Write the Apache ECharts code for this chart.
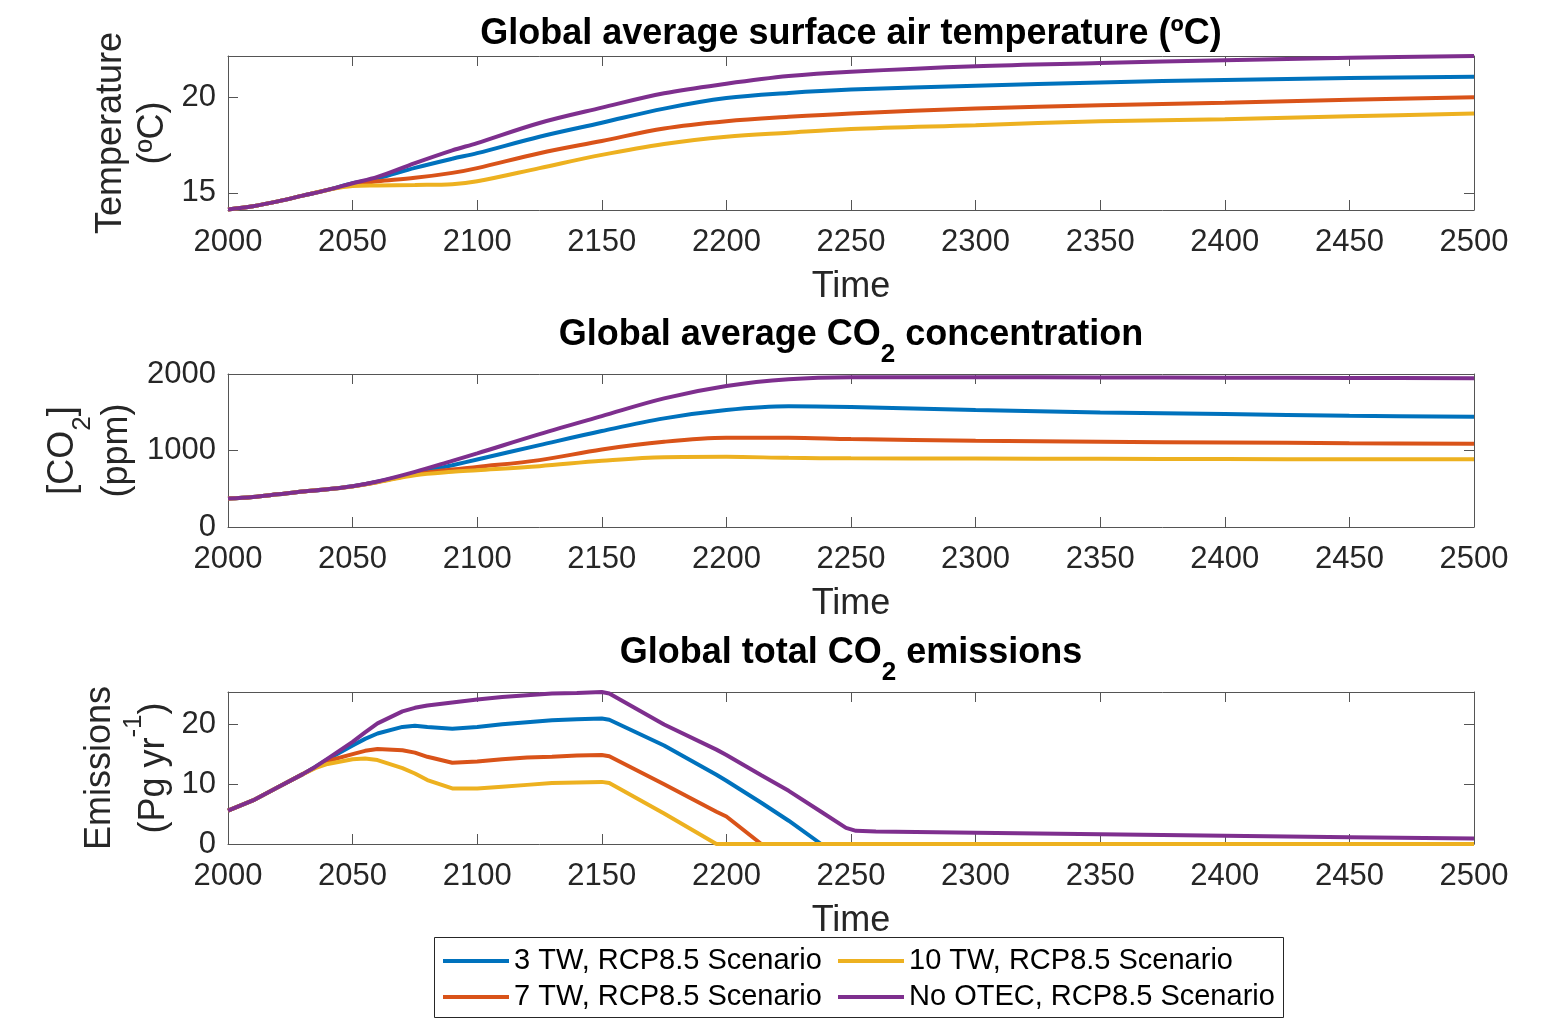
<!DOCTYPE html>
<html>
<head>
<meta charset="utf-8">
<script src="https://cdn.jsdelivr.net/npm/echarts@6/dist/echarts.min.js"></script>
<style>
html,body{margin:0;padding:0;background:#fff;}
#chart{width:1557px;height:1024px;}
</style>
</head>
<body>
<div id="chart"></div>
<script>
// ---------------- data ----------------
const seriesNames = ['3 TW, RCP8.5 Scenario', '7 TW, RCP8.5 Scenario', '10 TW, RCP8.5 Scenario', 'No OTEC, RCP8.5 Scenario'];
const seriesColors = ['#0072BD', '#D95319', '#EDB120', '#7E2F8E'];
const xTickLabels = [2000, 2050, 2100, 2150, 2200, 2250, 2300, 2350, 2400, 2450, 2500];

// Temperature (°C)
const tYears = [2000,2010,2020,2030,2040,2050,2060,2075,2090,2100,2125,2150,2175,2200,2225,2250,2300,2350,2400,2450,2500];
const temp3TW    = [14.13,14.3,14.55,14.85,15.15,15.5,15.75,16.3,16.78,17.07,17.93,18.66,19.4,19.95,20.22,20.4,20.6,20.77,20.9,21.0,21.07];
const temp7TW    = [14.13,14.3,14.55,14.85,15.15,15.45,15.6,15.78,16.04,16.29,17.07,17.71,18.36,18.74,18.97,19.15,19.4,19.57,19.71,19.86,20.0];
const temp10TW   = [14.13,14.3,14.55,14.85,15.15,15.35,15.38,15.41,15.45,15.6,16.29,16.98,17.55,17.93,18.14,18.33,18.53,18.74,18.84,19.0,19.14];
const tempNoOTEC = [14.13,14.3,14.55,14.85,15.15,15.5,15.83,16.55,17.22,17.6,18.65,19.45,20.2,20.7,21.1,21.33,21.62,21.78,21.93,22.06,22.15];
const tempTicks = [15, 20];

// CO2 concentration (ppm)
const co2Years = tYears;
const co23TW    = [372,393,428,464,494,533,592,700,808,883,1070,1254,1420,1529,1578,1568,1529,1498,1476,1454,1441];
const co27TW    = [372,393,428,464,494,531,588,690,752,786,874,1014,1114,1166,1168,1149,1127,1114,1105,1096,1088];
const co210TW   = [372,393,428,464,494,530,585,677,722,742,795,865,912,917,904,898,896,891,888,887,887];
const co2NoOTEC = [372,393,428,464,494,533,595,721,865,962,1214,1450,1682,1843,1931,1957,1958,1955,1952,1948,1944];
const co2Ticks = [0, 1000, 2000];

// CO2 emissions (Pg yr-1)
const eYears = [2000,2010,2020,2030,2035,2040,2050,2055,2060,2070,2075,2080,2090,2100,2110,2120,2130,2140,2150,2153,2175,2196,2200,2214,2225,2238,2248,2252,2260,2300,2350,2400,2450,2500];
const em3TW    = [5.6,7.3,9.5,11.7,12.9,14.2,16.5,17.6,18.5,19.6,19.8,19.6,19.3,19.6,20.05,20.4,20.7,20.9,21.0,20.8,16.5,11.6,10.6,6.9,3.9,0,0,0,0,0,0,0,0,0];
const em7TW    = [5.6,7.3,9.5,11.7,12.8,13.9,15.05,15.6,15.9,15.7,15.3,14.6,13.6,13.8,14.2,14.5,14.6,14.8,14.9,14.7,10.0,5.4,4.6,0,0,0,0,0,0,0,0,0,0,0];
const em10TW   = [5.6,7.3,9.5,11.7,12.7,13.4,14.2,14.3,14.05,12.7,11.8,10.7,9.3,9.3,9.6,9.9,10.2,10.3,10.4,10.2,5.1,0,0,0,0,0,0,0,0,0,0,0,0,0];
const emNoOTEC = [5.6,7.3,9.5,11.7,12.9,14.3,17.1,18.7,20.2,22.2,22.8,23.2,23.7,24.2,24.6,24.9,25.2,25.3,25.45,25.2,20.0,15.8,14.9,11.5,8.9,5.4,2.7,2.2,2.1,1.9,1.65,1.4,1.15,0.9];
const emTicks = [0, 10, 20];

// ---------------- chart ----------------
const FONT = '"Liberation Sans", Arial, Helvetica, sans-serif';
const AX = '#262626';
const BOX = '#555555';

const pair = (xs, ys) => xs.map((x, i) => [x, ys[i]]);
const plain = v => String(v);

const grids = [
  { left: 228, top: 56, width: 1246, height: 154 },
  { left: 228, top: 374, width: 1246, height: 153 },
  { left: 228, top: 692, width: 1246, height: 152 }
];

const subRich = {
  b: { fontSize: 36, fontWeight: 'bold', color: '#000', fontFamily: FONT },
  s: { fontSize: 26, fontWeight: 'bold', color: '#000', fontFamily: FONT, padding: [40, 0, 0, 0] }
};
const nameRich = {
  a: { fontSize: 36, color: AX, fontFamily: FONT, lineHeight: 42 },
  s: { fontSize: 26, color: AX, fontFamily: FONT, padding: [40, 0, 0, 0] },
  p: { fontSize: 26, color: AX, fontFamily: FONT, padding: [0, 0, 40, 0] }
};

const titles = [
  '{b|Global average surface air temperature (ºC)}',
  '{b|Global average CO}{s|2}{b| concentration}',
  '{b|Global total CO}{s|2}{b| emissions}'
];
const titleGaps = [4, 6, 6];

const xAxes = [];
grids.forEach((g, i) => {
  xAxes.push({
    gridIndex: i, type: 'value', position: 'bottom', min: 2000, max: 2500, interval: 50,
    axisLine: { show: true, onZero: false, lineStyle: { color: BOX, width: 1 } },
    axisTick: { show: true, inside: true, length: 10, lineStyle: { color: BOX } },
    axisLabel: { show: true, fontSize: 31, color: AX, fontFamily: FONT, margin: 17,
      customValues: xTickLabels, formatter: plain },
    splitLine: { show: false },
    name: 'Time', nameLocation: 'middle', nameGap: 59, nameMoveOverlap: false,
    nameTextStyle: { fontSize: 36, color: AX, fontFamily: FONT }
  });
  xAxes.push({
    gridIndex: i, type: 'value', position: 'top', min: 2000, max: 2500, interval: 50,
    axisLine: { show: true, onZero: false, lineStyle: { color: BOX, width: 1 } },
    axisTick: { show: true, inside: true, length: 10, lineStyle: { color: BOX } },
    axisLabel: { show: false },
    splitLine: { show: false },
    name: titles[i], nameLocation: 'middle', nameGap: titleGaps[i], nameMoveOverlap: false,
    nameTextStyle: { rich: subRich, fontSize: 36, fontWeight: 'bold', color: '#000', fontFamily: FONT }
  });
});

const yCfg = [
  { min: 14.1, max: 22.15, ticks: tempTicks, name: '{a|Temperature}\n{a|(ºC)}', gap: 54 },
  { min: 0, max: 2000, ticks: co2Ticks, name: '{a|[CO}{s|2}{a|]}\n{a|(ppm)}', gap: 90 },
  { min: 0, max: 25.45, ticks: emTicks, name: '{a|Emissions}\n{a|(Pg yr}{p|-1}{a|)}', gap: 41 }
];
const yAxes = [];
yCfg.forEach((c, i) => {
  yAxes.push({
    gridIndex: i, type: 'value', position: 'left', min: c.min, max: c.max,
    axisLine: { show: true, onZero: false, lineStyle: { color: BOX, width: 1 } },
    axisTick: { show: true, inside: true, length: 10, lineStyle: { color: BOX }, customValues: c.ticks },
    axisLabel: { show: true, fontSize: 31, color: AX, fontFamily: FONT, margin: 12,
      customValues: c.ticks, formatter: plain },
    splitLine: { show: false },
    name: c.name, nameLocation: 'middle', nameRotate: 90, nameGap: c.gap, nameMoveOverlap: false,
    nameTextStyle: { rich: nameRich, fontSize: 36, color: AX, fontFamily: FONT, align: 'center' }
  });
  yAxes.push({
    gridIndex: i, type: 'value', position: 'right', min: c.min, max: c.max,
    axisLine: { show: true, onZero: false, lineStyle: { color: BOX, width: 1 } },
    axisTick: { show: true, inside: true, length: 10, lineStyle: { color: BOX }, customValues: c.ticks },
    axisLabel: { show: false },
    splitLine: { show: false }
  });
});

const panelData = [
  [pair(tYears, temp3TW), pair(tYears, temp7TW), pair(tYears, temp10TW), pair(tYears, tempNoOTEC)],
  [pair(co2Years, co23TW), pair(co2Years, co27TW), pair(co2Years, co210TW), pair(co2Years, co2NoOTEC)],
  [pair(eYears, em3TW), pair(eYears, em7TW), pair(eYears, em10TW), pair(eYears, emNoOTEC)]
];
const panelSmooth = [0.35, 0.35, false];

const series = [];
panelData.forEach((sets, p) => {
  sets.forEach((d, k) => {
    series.push({
      name: seriesNames[k], type: 'line', xAxisIndex: p * 2, yAxisIndex: p * 2,
      data: d, symbol: 'none', showSymbol: false, smooth: panelSmooth[p],
      lineStyle: { color: seriesColors[k], width: 4 },
      itemStyle: { color: seriesColors[k] },
      emphasis: { disabled: true }, clip: false
    });
  });
});

const legendBase = {
  orient: 'vertical', top: 946, itemWidth: 66, itemHeight: 4, itemGap: 6, padding: 0,
  icon: 'rect',
  textStyle: { fontSize: 29, color: '#000', fontFamily: FONT, lineHeight: 30 },
  selectedMode: false
};

const option = {
  animation: false,
  backgroundColor: '#fff',
  grid: grids,
  xAxis: xAxes,
  yAxis: yAxes,
  series: series,
  legend: [
    Object.assign({}, legendBase, { left: 443, data: [seriesNames[0], seriesNames[1]] }),
    Object.assign({}, legendBase, { left: 838, data: [seriesNames[2], seriesNames[3]] })
  ],
  graphic: [{
    type: 'rect', z: 0,
    shape: { x: 434.5, y: 937.5, width: 849, height: 80 },
    style: { fill: '#fff', stroke: AX, lineWidth: 1 }
  }]
};

const chart = echarts.init(document.getElementById('chart'), null, { renderer: 'canvas' });
chart.setOption(option);
</script>
</body>
</html>
